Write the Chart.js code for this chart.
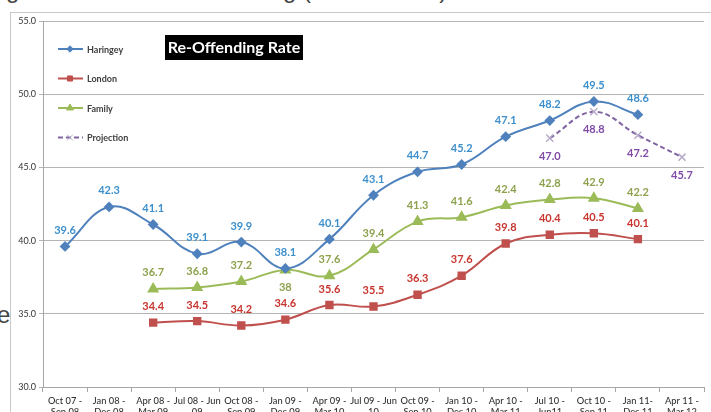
<!DOCTYPE html>
<html>
<head>
<meta charset="utf-8">
<script src="https://cdn.jsdelivr.net/npm/chart.js@4/dist/chart.umd.min.js"></script>
<style>
  html, body { margin: 0; padding: 0; background: #fff; overflow: hidden; width: 711px; height: 412px; }
  #frame { position: absolute; left: 10px; top: 12px; width: 720px; height: 430px; border: 1px solid #c9c9c9; box-sizing: border-box; }
  #wrap { position: absolute; left: 0; top: 0; }
  .doc { position: absolute; font-family: 'Liberation Sans', Arial, sans-serif; color: #444; line-height: 1; }
</style>
</head>
<body>
<div class="doc" style="left:-14px; top:-22px; font-size:24px; white-space:nowrap;">Figure 2: Youth Re-Offending (2007 - 2012)</div>
<div class="doc" style="left:-3px; top:303px; font-size:24px;">e</div>
<div id="frame"></div>
<div id="wrap"><canvas id="myChart" width="711" height="432"></canvas></div>
<script>
// Chart data -----------------------------------------
let periods = [
  ['Oct 07 -', 'Sep 08'], ['Jan 08 -', 'Dec 08'], ['Apr 08 -', 'Mar 09'], ['Jul 08 - Jun', '09'],
  ['Oct 08 -', 'Sep 09'], ['Jan 09 -', 'Dec 09'], ['Apr 09 -', 'Mar 10'], ['Jul 09 - Jun', '10'],
  ['Oct 09 -', 'Sep 10'], ['Jan 10 -', 'Dec 10'], ['Apr 10 -', 'Mar 11'], ['Jul 10 -', 'Jun11'],
  ['Oct 10 -', 'Sep 11'], ['Jan 11-', 'Dec 11'], ['Apr 11 -', 'Mar 12']
];
let haringey   = [39.6, 42.3, 41.1, 39.1, 39.9, 38.1, 40.1, 43.1, 44.7, 45.2, 47.1, 48.2, 49.5, 48.6, null];
let london     = [null, null, 34.4, 34.5, 34.2, 34.6, 35.6, 35.5, 36.3, 37.6, 39.8, 40.4, 40.5, 40.1, null];
let family     = [null, null, 36.7, 36.8, 37.2, 38, 37.6, 39.4, 41.3, 41.6, 42.4, 42.8, 42.9, 42.2, null];
let projection = [null, null, null, null, null, null, null, null, null, null, null, 47.0, 48.8, 47.2, 45.7];
let yTicks = [30, 35, 40, 45, 50, 55];

let fontName = 'Lato, "Open Sans", sans-serif';

// colours: line, label
let colors = {
  blue:   ['#4f81bd', '#3d8fcc'],
  red:    ['#c0504d', '#c8352f'],
  green:  ['#9bbb59', '#8ea24e'],
  purple: ['#8064a2', '#7f4aa8']
};

// data labels drawn above points (below for projection, and the 38 on Family)
let labelPlugin = {
  id: 'valueLabels',
  afterDatasetsDraw(chart) {
    let ctx = chart.ctx;
    ctx.save();
    ctx.font = 'bold 11px ' + fontName;
    ctx.textAlign = 'center';
    ctx.textBaseline = 'middle';
    chart.data.datasets.forEach((ds, i) => {
      let meta = chart.getDatasetMeta(i);
      meta.data.forEach((pt, j) => {
        let v = ds.data[j];
        if (v == null) return;
        let below = ds.labelBelow === true || (ds.label === 'Family' && j === 5);
        let text = ds.label === 'Projection' ? v.toFixed(1) : String(v);
        ctx.fillStyle = ds.labelColor;
        ctx.fillText(text, pt.x, pt.y + (below ? 18 : -16));
      });
    });
    ctx.restore();
  }
};

// legend in the top-left of the plot and the black title box
let boxPlugin = {
  id: 'insideLegend',
  afterDraw(chart) {
    let ctx = chart.ctx;
    ctx.save();
    // title box
    ctx.fillStyle = '#000';
    ctx.fillRect(165, 35, 138, 25);
    ctx.fillStyle = '#fff';
    ctx.font = 'bold 16px ' + fontName;
    ctx.textAlign = 'center';
    ctx.textBaseline = 'middle';
    ctx.fillText('Re-Offending Rate', 234, 48);
    // legend
    ctx.font = 'bold 9px ' + fontName;
    ctx.textAlign = 'left';
    chart.data.datasets.forEach((ds, i) => {
      let y = 49 + i * 29.5;
      ctx.strokeStyle = ds.borderColor;
      ctx.lineWidth = 2;
      ctx.setLineDash(ds.borderDash || []);
      ctx.beginPath();
      ctx.moveTo(58, y);
      ctx.lineTo(83, y);
      ctx.stroke();
      ctx.setLineDash([]);
      ctx.fillStyle = ds.pointBackgroundColor;
      ctx.strokeStyle = ds.pointBorderColor;
      ctx.lineWidth = 1;
      Chart.helpers.drawPoint(ctx, {
        pointStyle: ds.pointStyle, radius: ds.pointRadius * 0.8, rotation: 0, borderWidth: 1
      }, 70, y);
      ctx.fillStyle = '#404040';
      ctx.fillText(ds.label, 87, y + 1);
    });
    ctx.restore();
  }
};

let ctx = document.getElementById('myChart').getContext('2d');
let myChart = new Chart(ctx, {
  type: 'line',
  data: {
    labels: periods,
    datasets: [
      {
        label: 'Haringey',
        data: haringey,
        borderColor: colors.blue[0],
        backgroundColor: colors.blue[0],
        pointBackgroundColor: colors.blue[0],
        pointBorderColor: colors.blue[0],
        labelColor: colors.blue[1],
        pointStyle: 'rectRot',
        pointRadius: 4,
        borderWidth: 2,
        tension: 0.4
      },
      {
        label: 'London',
        data: london,
        borderColor: colors.red[0],
        backgroundColor: colors.red[0],
        pointBackgroundColor: colors.red[0],
        pointBorderColor: colors.red[0],
        labelColor: colors.red[1],
        pointStyle: 'rect',
        pointRadius: 4.5,
        borderWidth: 2,
        tension: 0.4
      },
      {
        label: 'Family',
        data: family,
        borderColor: colors.green[0],
        backgroundColor: colors.green[0],
        pointBackgroundColor: colors.green[0],
        pointBorderColor: colors.green[0],
        labelColor: colors.green[1],
        pointStyle: 'triangle',
        pointRadius: 5,
        borderWidth: 2,
        tension: 0.4
      },
      {
        label: 'Projection',
        data: projection,
        borderColor: colors.purple[0],
        backgroundColor: '#b7aac8',
        pointBackgroundColor: '#b7aac8',
        pointBorderColor: '#b7aac8',
        labelColor: colors.purple[1],
        labelBelow: true,
        pointStyle: 'crossRot',
        pointRadius: 5,
        pointBorderWidth: 1.5,
        borderWidth: 2,
        borderDash: [5, 3],
        tension: 0.4
      }
    ]
  },
  options: {
    responsive: false,
    animation: false,
    spanGaps: false,
    layout: { padding: { left: 10, right: 7, top: 21, bottom: 0 } },
    plugins: {
      legend: { display: false },
      tooltip: { enabled: false }
    },
    scales: {
      x: {
        offset: true,
        afterFit(scale) { scale.height = 45; },
        grid: { drawOnChartArea: false, offset: true, tickLength: 5, color: '#a6a6a6' },
        border: { color: '#a6a6a6' },
        ticks: {
          autoSkip: false, maxRotation: 0, padding: 3,
          color: '#333', font: { family: fontName, size: 9.3, weight: '500', lineHeight: 1.25 }
        }
      },
      y: {
        min: 30,
        max: 55,
        afterFit(scale) { scale.width = 33; },
        afterBuildTicks(scale) { scale.ticks = yTicks.map(v => ({ value: v })); },
        grid: { color: '#b4b4b4', tickLength: 4 },
        border: { color: '#a6a6a6' },
        ticks: {
          padding: 3,
          color: '#333',
          font: { family: fontName, size: 9 },
          callback: v => v.toFixed(1)
        }
      }
    }
  },
  plugins: [labelPlugin, boxPlugin]
});
</script>
</body>
</html>
